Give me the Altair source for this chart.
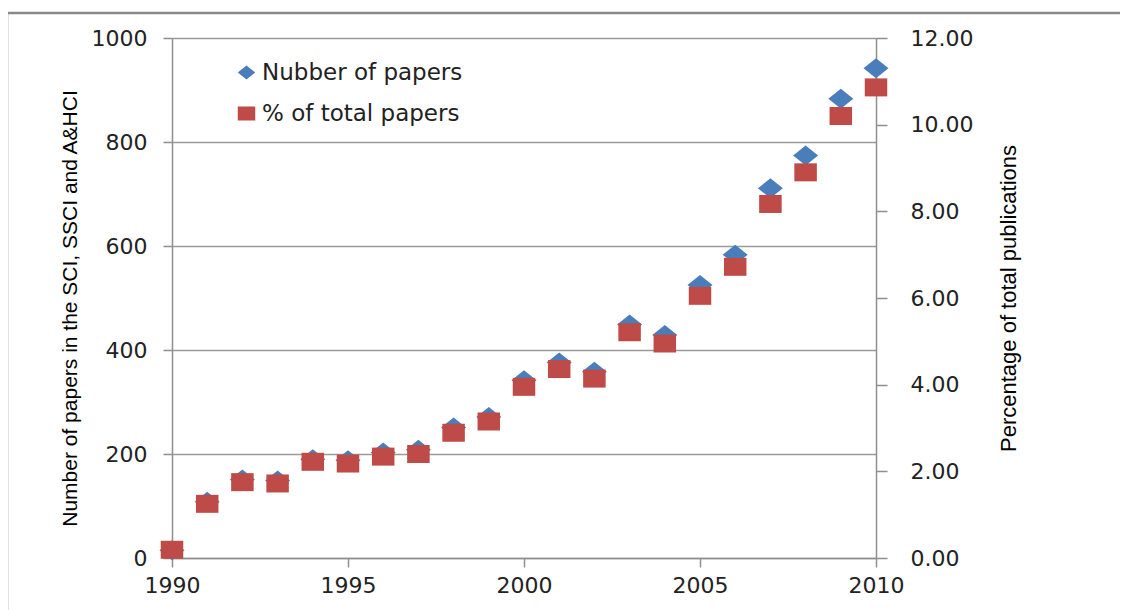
import altair as alt
import pandas as pd

years = list(range(1990, 2011))
papers = [15, 108, 151, 149, 190, 188, 203, 208, 251, 271, 342, 376, 358, 449, 429, 525, 583, 711, 774, 883, 942]
pct = [0.19, 1.25, 1.75, 1.72, 2.22, 2.18, 2.34, 2.40, 2.89, 3.15, 3.95, 4.36, 4.14, 5.21, 4.95, 6.05, 6.72, 8.17, 8.90, 10.20, 10.86]
series_names = ["Nubber of papers", "% of total papers"]
series_colors = ["#4A7EBB", "#BE4B48"]
x_ticks = [1990, 1995, 2000, 2005, 2010]
left_ticks = [0, 200, 400, 600, 800, 1000]
right_ticks = [0, 2, 4, 6, 8, 10, 12]

DIAMOND = "M0,-1L1.25,0L0,1L-1.25,0Z"
SQUARE = "M-1.25,-1L1.25,-1L1.25,1L-1.25,1Z"

df = pd.DataFrame({"year": years, "papers": papers, "pct": pct})

LABEL_FONT = "DejaVu Sans"
TITLE_FONT = "Liberation Sans"
GRAY = "#8f8f8f"

legend = alt.Legend(
    orient="none", legendX=63, legendY=23, title=None,
    labelFont=LABEL_FONT, labelFontSize=23, labelColor="#222222", labelLimit=0,
    symbolSize=196, symbolStrokeWidth=0, rowPadding=17, labelOffset=4, padding=0,
)
color = alt.Color("series:N", scale=alt.Scale(domain=series_names, range=series_colors),
                  sort=series_names, legend=legend)
shape = alt.Shape("series:N", scale=alt.Scale(domain=series_names, range=[DIAMOND, SQUARE]),
                  sort=series_names, legend=legend)

x = alt.X("year:Q", scale=alt.Scale(domain=[1990, 2010], nice=False, zero=False),
          axis=alt.Axis(values=x_ticks, format="d", title=None, grid=False,
                        labelFont=LABEL_FONT, labelFontSize=22, labelColor="#222222",
                        labelPadding=8, tickSize=9, tickColor=GRAY, tickWidth=1.5,
                        domainColor=GRAY, domainWidth=1.5, labelFlush=False))

left = alt.Chart(df).mark_point(filled=True, size=400, opacity=1).transform_calculate(
    series="'Nubber of papers'"
).encode(
    x=x,
    y=alt.Y("papers:Q", scale=alt.Scale(domain=[0, 1000], nice=False),
            axis=alt.Axis(values=left_ticks, format="d", orient="left", grid=True,
                          gridColor="#9a9a9a", gridWidth=1.5,
                          title="Number  of papers in the SCI, SSCI and A&HCI",
                          titleFont=TITLE_FONT, titleFontSize=21, titleFontWeight="normal",
                          titleColor="#000000", titleX=-92, titleY=270, titleAngle=270,
                          titleBaseline="bottom",
                          labelFont=LABEL_FONT, labelFontSize=22, labelColor="#222222",
                          labelPadding=16, tickSize=9, tickColor=GRAY, tickWidth=1.5,
                          domainColor=GRAY, domainWidth=1.5)),
    color=color, shape=shape,
)

right = alt.Chart(df).mark_point(filled=True, size=324, opacity=1).transform_calculate(
    series="'% of total papers'"
).encode(
    x=x,
    y=alt.Y("pct:Q", scale=alt.Scale(domain=[0, 12], nice=False),
            axis=alt.Axis(values=right_ticks, orient="right", format=".2f", grid=False,
                          title="Percentage of total publications",
                          titleFont=TITLE_FONT, titleFontSize=22, titleFontWeight="normal",
                          titleColor="#000000", titleX=144, titleY=260, titleAngle=270,
                          titleBaseline="bottom",
                          labelFont=LABEL_FONT, labelFontSize=22, labelColor="#222222",
                          labelPadding=23, tickSize=11, tickColor=GRAY, tickWidth=1.5,
                          domainColor=GRAY, domainWidth=1.5)),
    color=color, shape=shape,
)

frame_data = alt.Data(values=[{"k": 1}])
frame_top = alt.Chart(frame_data).mark_rule(color="#8a8a8a", strokeWidth=2.5).encode(
    x=alt.value(-165), x2=alt.value(990), y=alt.value(-25))
frame_left = alt.Chart(frame_data).mark_rule(color="#8a8a8a", strokeWidth=2.5).encode(
    x=alt.value(-165), y=alt.value(-25), y2=alt.value(600))

chart = alt.layer(left, right, frame_top, frame_left).resolve_scale(y="independent").properties(
    width=704, height=520,
    padding={"left": 164, "top": 30, "right": 244, "bottom": 72},
    autosize=alt.AutoSizeParams(type="none"),
).configure_view(stroke=None)

chart.save("out.html", embed_options={"renderer": "svg", "actions": False})
